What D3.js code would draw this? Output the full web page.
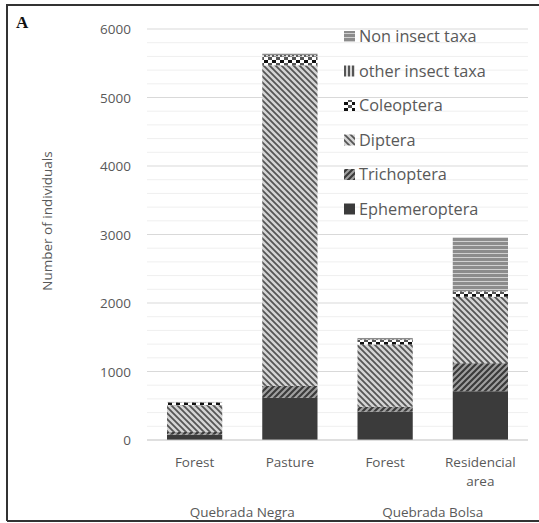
<!DOCTYPE html>
<html><head><meta charset="utf-8">
<script src="https://cdn.jsdelivr.net/npm/d3@7"></script>
<style>
body{margin:0;background:#fff;}
text{font-family:"Open Sans",Lato,sans-serif;}
</style></head>
<body><svg id="c" width="539" height="523"></svg>
<script>
const categories = ["Forest","Pasture","Forest","Residencial area"];
const groups = ["Quebrada Negra","Quebrada Negra","Quebrada Bolsa","Quebrada Bolsa"];
const seriesNames = ["Ephemeroptera","Trichoptera","Diptera","Coleoptera","other insect taxa","Non insect taxa"];
const ephemeroptera = [78, 615, 415, 712];
const trichoptera = [40, 175, 70, 410];
const diptera = [390, 4680, 910, 970];
const coleoptera = [40, 130, 65, 75];
const otherInsect = [4, 20, 10, 8];
const nonInsect = [5, 25, 20, 785];
const yTicks = [0,1000,2000,3000,4000,5000,6000];

const svg = d3.select("#c");
const defs = svg.append("defs");
function pat(id,w,h,draw){const p=defs.append("pattern").attr("id",id).attr("patternUnits","userSpaceOnUse").attr("width",w).attr("height",h);draw(p);}
pat("p0",4,4,p=>p.append("rect").attr("width",4).attr("height",4).attr("fill","#3b3b3b"));
pat("p1",6,6,p=>{p.append("rect").attr("width",6).attr("height",6).attr("fill","#a0a0a0");
  p.append("path").attr("d","M-1,1 L1,-1 M0,6 L6,0 M5,7 L7,5").attr("stroke","#3a3a3a").attr("stroke-width",2.2);});
pat("p2",6,6,p=>{p.append("rect").attr("width",6).attr("height",6).attr("fill","#d4d4d4");
  p.append("path").attr("d","M-1,5 L1,7 M0,0 L6,6 M5,-1 L7,1").attr("stroke","#555").attr("stroke-width",1.8);});
pat("p3",8,6,p=>{p.append("rect").attr("width",8).attr("height",6).attr("fill","#ffffff");
  p.append("rect").attr("x",0).attr("y",0).attr("width",4).attr("height",3).attr("fill","#111");
  p.append("rect").attr("x",4).attr("y",3).attr("width",4).attr("height",3).attr("fill","#555");});
pat("p4",4,4,p=>{p.append("rect").attr("width",4).attr("height",4).attr("fill","#d8d8d8");
  p.append("rect").attr("width",2).attr("height",4).attr("fill","#555");});
pat("p5",6,4,p=>{p.append("rect").attr("width",6).attr("height",4).attr("fill","#8c8c8c");
  p.append("rect").attr("y",1).attr("width",6).attr("height",1).attr("fill","#d0d0d0");});

// frame
svg.append("path").attr("d","M7,521 L7,5 L539,5").attr("fill","none").attr("stroke","#333").attr("stroke-width",2);
svg.append("line").attr("x1",7).attr("x2",539).attr("y1",521).attr("y2",521).attr("stroke","#333").attr("stroke-width",2);

const pLeft=147,pRight=528,pTop=29,pBottom=440;
const x=d3.scaleBand().domain(d3.range(categories.length)).range([pLeft,pRight]).paddingInner(0.42).paddingOuter(0.21);
const y=d3.scaleLinear().domain([0,6000]).range([pBottom,pTop]);

// gridlines
const minor=d3.range(200,6001,200).filter(v=>v%1000!==0);
svg.append("g").selectAll("line").data(minor).join("line").attr("x1",pLeft).attr("x2",pRight)
  .attr("y1",d=>y(d)).attr("y2",d=>y(d)).attr("stroke","#efefef").attr("stroke-width",1);
svg.append("g").selectAll("line").data(yTicks.slice(1)).join("line").attr("x1",pLeft).attr("x2",pRight)
  .attr("y1",d=>y(d)).attr("y2",d=>y(d)).attr("stroke","#d9d9d9").attr("stroke-width",1);

// y axis
const yAxis=d3.axisLeft(y).tickValues(yTicks).tickFormat(d3.format("d")).tickSize(0).tickPadding(0);
const ya=svg.append("g").attr("transform",`translate(131,0)`).call(yAxis);
ya.select(".domain").remove();
ya.selectAll("text").attr("font-size",13.5).attr("fill","#595959").style("font-family","'Open Sans',sans-serif").attr("dy","0.35em");

// stacks
const seriesVals=[ephemeroptera,trichoptera,diptera,coleoptera,otherInsect,nonInsect];
const rows=categories.map((c,i)=>{const o={i};seriesNames.forEach((s,k)=>o[s]=seriesVals[k][i]);return o;});
const stacked=d3.stack().keys(seriesNames)(rows);
svg.append("g").selectAll("g").data(stacked).join("g").attr("fill",(d,k)=>`url(#p${k})`)
  .selectAll("rect").data(d=>d).join("rect")
  .attr("x",d=>x(d.data.i)).attr("width",x.bandwidth())
  .attr("y",d=>y(d[1])).attr("height",d=>y(d[0])-y(d[1]));

// x axis line
svg.append("line").attr("x1",pLeft).attr("x2",pRight).attr("y1",pBottom).attr("y2",pBottom).attr("stroke","#bfbfbf");

// category labels
const xl=svg.append("g");
categories.forEach((c,i)=>{
  const cx=x(i)+x.bandwidth()/2;
  const words=c.split(" ");
  words.forEach((w,j)=>xl.append("text").attr("x",cx).attr("y",466.5+j*19.5).attr("text-anchor","middle")
    .attr("font-size",13.5).attr("fill","#595959").text(w));
});
// group labels
const gnames=[...new Set(groups)];
gnames.forEach(g=>{
  const idx=groups.map((v,i)=>v===g?i:-1).filter(i=>i>=0);
  const cx=(x(idx[0])+x(idx[idx.length-1])+x.bandwidth())/2;
  svg.append("text").attr("x",cx).attr("y",516.5).attr("text-anchor","middle").attr("font-size",13.5).attr("fill","#595959").text(g);
});

// y title
svg.append("text").attr("transform","translate(52,221) rotate(-90)").attr("text-anchor","middle")
  .attr("font-size",13.5).attr("fill","#595959").text("Number of individuals");

// panel letter
svg.append("text").attr("x",16).attr("y",28).style("font-family","'Liberation Serif','DejaVu Serif',serif").attr("font-weight","bold")
  .attr("font-size",17).attr("fill","#111").text("A");

// legend (reverse order)
const legItems=seriesNames.map((s,k)=>({s,k})).reverse();
const lg=svg.append("g");
legItems.forEach((d,j)=>{
  const yy=36+j*34.5;
  lg.append("rect").attr("x",344).attr("y",yy-5).attr("width",11).attr("height",11).attr("fill",`url(#p${d.k})`);
  lg.append("text").attr("x",359).attr("y",yy+0.5).attr("dy","0.35em").attr("font-size",16.3).attr("fill","#595959").text(d.s);
});
</script></body></html>
